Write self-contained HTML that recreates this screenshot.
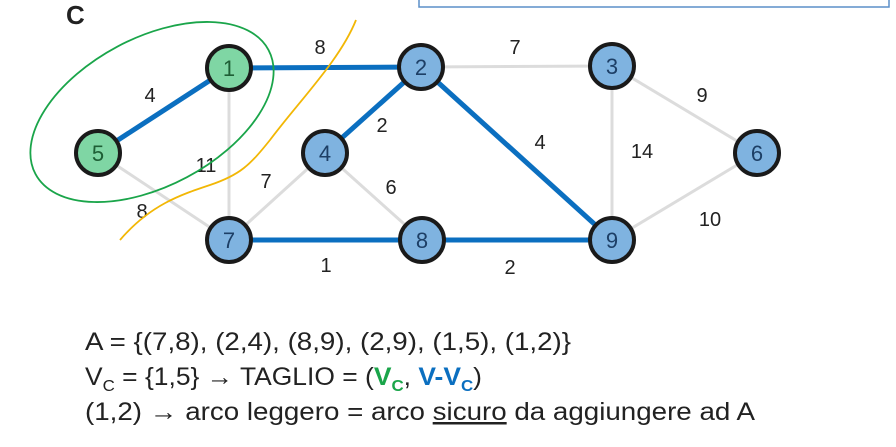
<!DOCTYPE html>
<html><head><meta charset="utf-8"><style>
body{margin:0;background:#fff;width:896px;height:442px;overflow:hidden;font-family:"Liberation Sans",sans-serif}
</style></head><body>
<svg width="896" height="442" viewBox="0 0 896 442">
<rect x="419" y="-4" width="470" height="11" fill="none" stroke="#5b8fc9" stroke-width="1.5"/>
<text x="66" y="24" font-size="26" font-weight="bold" fill="#222">C</text>
<g id="edges"></g>
<g id="nodes"></g>
<ellipse cx="152" cy="112" rx="132" ry="74" transform="rotate(-28 152 112)" fill="none" stroke="#1aa54a" stroke-width="1.8"/>
<path d="M356,20 C340,60 300,100 270,140 C250,165 240,175 210,185 C180,195 150,205 120,240" fill="none" stroke="#f2b705" stroke-width="1.8"/>
<g font-size="25" fill="#222">
<text x="85" y="350" textLength="486" lengthAdjust="spacingAndGlyphs">A = {(7,8), (2,4), (8,9), (2,9), (1,5), (1,2)}</text>
<text x="85" y="385" textLength="397" lengthAdjust="spacingAndGlyphs">V<tspan font-size="16" dy="6">C</tspan><tspan dy="-6"> = {1,5} → TAGLIO = (</tspan><tspan fill="#1aa54a" font-weight="bold">V</tspan><tspan fill="#1aa54a" font-weight="bold" font-size="16" dy="6">C</tspan><tspan dy="-6">, </tspan><tspan fill="#0b6fc0" font-weight="bold">V-V</tspan><tspan fill="#0b6fc0" font-weight="bold" font-size="16" dy="6">C</tspan><tspan dy="-6">)</tspan></text>
<text x="85" y="420" textLength="670" lengthAdjust="spacingAndGlyphs">(1,2) → arco leggero = arco <tspan text-decoration="underline">sicuro</tspan> da aggiungere ad A</text>
</g>
</svg>
<script>
const nodeIds=[1,2,3,4,5,6,7,8,9];
const nodeX=[229,421,612,325,98,757,229,422,612];
const nodeY=[68,67,66,153,153,153,240,240,240];
const nodeGreen=[1,5];
const edgeFrom=[1,2,3,3,6,2,2,1,1,5,4,4,7,8];
const edgeTo=[2,3,6,9,9,4,9,5,7,7,7,8,8,9];
const edgeW=[8,7,9,14,10,2,4,4,11,8,7,6,1,2];
const edgeMST=[1,0,0,0,0,1,1,1,0,0,0,0,1,1];
const labelPos=[[320,54],[515,54],[702,102],[642,158],[710,226],[382,132],[540,149],[150,102],[206,172],[142,218],[266,188],[391,194],[326,272],[510,274]];
const NS="http://www.w3.org/2000/svg";
const eg=document.getElementById('edges'),ng=document.getElementById('nodes');
edgeFrom.forEach((f,i)=>{
 const a=nodeIds.indexOf(f),b=nodeIds.indexOf(edgeTo[i]);
 const l=document.createElementNS(NS,'line');
 l.setAttribute('x1',nodeX[a]);l.setAttribute('y1',nodeY[a]);l.setAttribute('x2',nodeX[b]);l.setAttribute('y2',nodeY[b]);
 l.setAttribute('stroke',edgeMST[i]?'#0b6fc0':'#dcdcdc');l.setAttribute('stroke-width',edgeMST[i]?5:3);
 
 
 eg.appendChild(l);
 const t=document.createElementNS(NS,'text');
 t.setAttribute('x',labelPos[i][0]);t.setAttribute('y',labelPos[i][1]);t.setAttribute('font-size','20');t.setAttribute('fill','#222');t.setAttribute('text-anchor','middle');
 t.textContent=edgeW[i];
 
 
 eg.appendChild(t);
});
nodeIds.forEach((id,i)=>{
 const g=nodeGreen.includes(id);
 const c=document.createElementNS(NS,'circle');
 c.setAttribute('cx',nodeX[i]);c.setAttribute('cy',nodeY[i]);c.setAttribute('r',22);
 c.setAttribute('fill',g?'#7fd6a4':'#7fb3e0');c.setAttribute('stroke','#1a1a1a');c.setAttribute('stroke-width',4);
 
 
 ng.appendChild(c);
 const t=document.createElementNS(NS,'text');
 t.setAttribute('x',nodeX[i]);t.setAttribute('y',nodeY[i]+8);t.setAttribute('font-size','22');t.setAttribute('text-anchor','middle');
 t.setAttribute('fill',g?'#1e5e35':'#1d3f66');
 t.textContent=id;
 
 
 ng.appendChild(t);
});
</script>
</body></html>
